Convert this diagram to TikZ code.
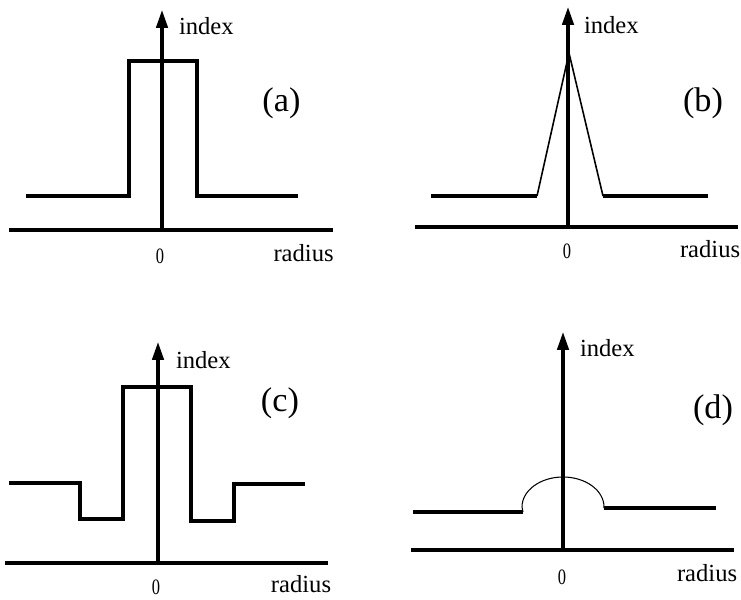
\documentclass[tikz,border=0pt]{standalone}
\usepackage{fontspec}
\setmainfont{Liberation Serif}
\usepackage{tikz}
\usetikzlibrary{positioning}
\usetikzlibrary{arrows.meta}
\newcommand{\narrow}[1]{\scalebox{0.75}[1]{#1}}

\begin{document}
\begin{tikzpicture}[
x=1cm,
y=1cm,
every node/.style={text=black,outer sep=0pt,inner sep=0pt},
axisline/.style={draw=black,line width=1.8pt},
indexaxis/.style={-{Triangle[length=3.6mm,width=2.3mm]},draw=black,line width=1.8pt},
profile/.style={draw=black,line width=1.8pt,line join=miter},
profilethin/.style={draw=black,line width=0.9pt,line join=miter},
profilearc/.style={draw=black,line width=0.6pt},
axislabel/.style={font=\fontsize{14}{16}\selectfont},
zerolabel/.style={font=\fontsize{12.5}{15}\selectfont},
panellabel/.style={font=\fontsize{19.5}{22}\selectfont}
]

\path[use as bounding box] (0,0) rectangle (14.82,11.98);

% (a) step profile
\coordinate (aLeft) at (0.18,7.38);
\coordinate (aRight) at (6.66,7.38);
\coordinate (aO) at (3.24,7.38);
\coordinate (aTop) at (3.24,11.78);
\draw[axisline] (aLeft) -- (aRight);
\draw[indexaxis] (aO) -- (aTop);
\draw[profile] (0.52,8.06) -- (2.58,8.06) -- (2.58,10.76) -- (3.94,10.76) -- (3.94,8.06) -- (5.96,8.06);
\node[axislabel,anchor=base west] (aidx) at (3.58,11.29) {index};
\node[panellabel] (atag) at (5.63,9.92) {(a)};
\node[zerolabel] (azero) at (3.20,6.85) {\narrow{0}};
\node[axislabel,anchor=base west] (arad) at (5.47,6.75) {radius};

% (b) triangular profile
\coordinate (bLeft) at (8.30,7.44);
\coordinate (bRight) at (14.76,7.44);
\coordinate (bO) at (11.36,7.44);
\coordinate (bTop) at (11.36,11.84);
\draw[axisline] (bLeft) -- (bRight);
\draw[indexaxis] (bO) -- (bTop);
\draw[profile] (8.62,8.06) -- (10.74,8.06);
\draw[profilethin] (10.74,8.06) -- (11.38,10.92) -- (12.06,8.06);
\draw[profile] (12.06,8.06) -- (14.16,8.06);
\node[axislabel,anchor=west] (bidx) at (11.68,11.48) {index};
\node[panellabel] (btag) at (14.06,9.92) {(b)};
\node[zerolabel] (bzero) at (11.34,6.95) {\narrow{0}};
\node[axislabel,anchor=west] (brad) at (13.60,7.00) {radius};

% (c) depressed cladding
\coordinate (cLeft) at (0.10,0.72);
\coordinate (cRight) at (6.56,0.72);
\coordinate (cO) at (3.16,0.72);
\coordinate (cTop) at (3.16,5.14);
\draw[axisline] (cLeft) -- (cRight);
\draw[indexaxis] (cO) -- (cTop);
\draw[profile] (0.18,2.32) -- (1.60,2.32) -- (1.60,1.60) -- (2.46,1.60) -- (2.46,4.24) -- (3.82,4.24) -- (3.82,1.56) -- (4.68,1.56) -- (4.68,2.30) -- (6.10,2.30);
\node[axislabel,anchor=west] (cidx) at (3.52,4.78) {index};
\node[panellabel] (ctag) at (5.60,3.92) {(c)};
\node[zerolabel] (czero) at (3.12,0.24) {\narrow{0}};
\node[axislabel] (crad) at (6.02,0.30) {radius};

% (d) rounded core
\coordinate (dLeft) at (8.22,0.98);
\coordinate (dRight) at (14.68,0.98);
\coordinate (dO) at (11.26,0.98);
\coordinate (dTop) at (11.26,5.34);
\draw[axisline] (dLeft) -- (dRight);
\draw[indexaxis] (dO) -- (dTop);
\draw[profile] (8.26,1.74) -- (10.46,1.74);
\draw[profilearc] (10.46,1.74) -- (10.44,1.84) arc[start angle=180,end angle=0,x radius=0.82,y radius=0.60] -- (12.08,1.82);
\draw[profile] (12.08,1.82) -- (14.32,1.82);
\node[axislabel,anchor=west] (didx) at (11.60,5.02) {index};
\node[panellabel] (dtag) at (14.26,3.78) {(d)};
\node[zerolabel] (dzero) at (11.24,0.44) {\narrow{0}};
\node[axislabel,anchor=west] (drad) at (13.54,0.52) {radius};

\end{tikzpicture}
\end{document}
